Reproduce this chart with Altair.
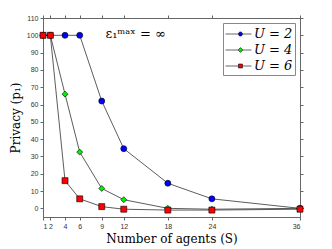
import altair as alt
import pandas as pd

S = [1, 2, 4, 6, 9, 12, 18, 24, 36]
p_u2 = [100, 100, 100, 100, 62, 34.5, 14.5, 5.5, 0]
p_u4 = [100, 100, 66, 32.5, 11.5, 5, 0, -0.5, 0]
p_u6 = [100, 100, 16, 5.5, 1, -0.5, -1, -1, -0.5]
series = ["U = 2", "U = 4", "U = 6"]
colors = ["#0000ff", "#00ee00", "#ff0000"]
shapes = ["circle", "diamond", "square"]
legend_shapes = [
    "M-1,0H0.52M1.0,0H2.06M1.0,0A0.24,0.24 0 1,1 0.52,0A0.24,0.24 0 1,1 1.0,0Z",
    "M-1,0H0.48M1.04,0H2.06M0.76,-0.28L1.04,0L0.76,0.28L0.48,0Z",
    "M-1,0H0.53M0.99,0H2.06M0.53,-0.23H0.99V0.23H0.53Z",
]
y_ticks = [0, 10, 20, 30, 40, 50, 60, 70, 80, 90, 100, 110]

rows = []
for name, vals in zip(series, [p_u2, p_u4, p_u6]):
    for s, v in zip(S, vals):
        rows.append({"S": s, "p": v, "series": name})
df = pd.DataFrame(rows)

xs = alt.Scale(domain=[1, 36], nice=False)
ys = alt.Scale(domain=[-5, 110], nice=False)

base = alt.Chart(df)

ax_common = dict(grid=False, labelFontSize=7, tickSize=3, titleFont="DejaVu Serif",
                 titleFontSize=12, titleFontWeight="normal", titleColor="black",
                 labelColor="#333", domainColor="#666", tickColor="#666", titlePadding=4)

lines = base.mark_line(color="#333333", strokeWidth=0.8).encode(
    x=alt.X("S:Q", scale=xs, axis=alt.Axis(values=S, title="Number of agents (S)", **ax_common)),
    y=alt.Y("p:Q", scale=ys, axis=alt.Axis(values=y_ticks, title="Privacy (p₁)", **ax_common)),
    detail="series:N",
)

points = base.mark_point(filled=True, size=36, stroke="black", strokeWidth=0.6, opacity=1).encode(
    x=alt.X("S:Q", scale=xs, axis=None),
    y=alt.Y("p:Q", scale=ys, axis=None),
    fill=alt.Fill("series:N", scale=alt.Scale(domain=series, range=colors), legend=None),
    shape=alt.Shape("series:N", scale=alt.Scale(domain=series, range=shapes), legend=None),
)

leg = base.transform_filter("datum.S < 0").mark_point(
    filled=True, size=289, stroke="black", strokeWidth=0.6, opacity=1).encode(
    x=alt.X("S:Q", scale=xs, axis=None),
    y=alt.Y("p:Q", scale=ys, axis=None),
    fill=alt.Fill("series:N", scale=alt.Scale(domain=series, range=colors),
                  legend=alt.Legend(title=None, orient="none", legendX=180, legendY=5,
                                    labelFont="DejaVu Serif", labelFontSize=13,
                                    labelFontStyle="italic", labelColor="black",
                                    strokeColor="#888", fillColor="white",
                                    padding=2, symbolStrokeColor="#333",
                                    symbolStrokeWidth=0.6, symbolSize=289,
                                    symbolOpacity=1, rowPadding=0, labelOffset=11)),
    shape=alt.Shape("series:N", scale=alt.Scale(domain=series, range=legend_shapes)),
)

ann_df = pd.DataFrame({"S": [9.5], "p": [100.5], "t": ["ε₁ᵐᵃˣ = ∞"]})
ann = alt.Chart(ann_df).mark_text(font="DejaVu Serif", fontSize=13, align="left",
                                  baseline="middle", color="black").encode(
    x=alt.X("S:Q", scale=xs, axis=None), y=alt.Y("p:Q", scale=ys, axis=None), text="t:N")

mirror = base.mark_point(opacity=0).encode(
    x=alt.X("S:Q", scale=xs, axis=alt.Axis(orient="top", values=S, labels=False, title=None,
                                           grid=False, tickSize=3, domainColor="#666", tickColor="#666")),
    y=alt.Y("p:Q", scale=ys, axis=alt.Axis(orient="right", values=y_ticks, labels=False, title=None,
                                           grid=False, tickSize=3, domainColor="#666", tickColor="#666")),
)

chart = alt.layer(lines, points, leg, ann, mirror).resolve_axis(
    x="independent", y="independent").resolve_scale(
    fill="independent", shape="independent").properties(
    width=257, height=199, autosize=alt.AutoSizeParams(type="none"),
    padding={"left": 35, "top": 10, "right": 10, "bottom": 30}
).configure_view(stroke="#888").configure_axis(labelFont="Liberation Sans")

chart.save("out.html", embed_options={"renderer": "svg", "actions": False})
